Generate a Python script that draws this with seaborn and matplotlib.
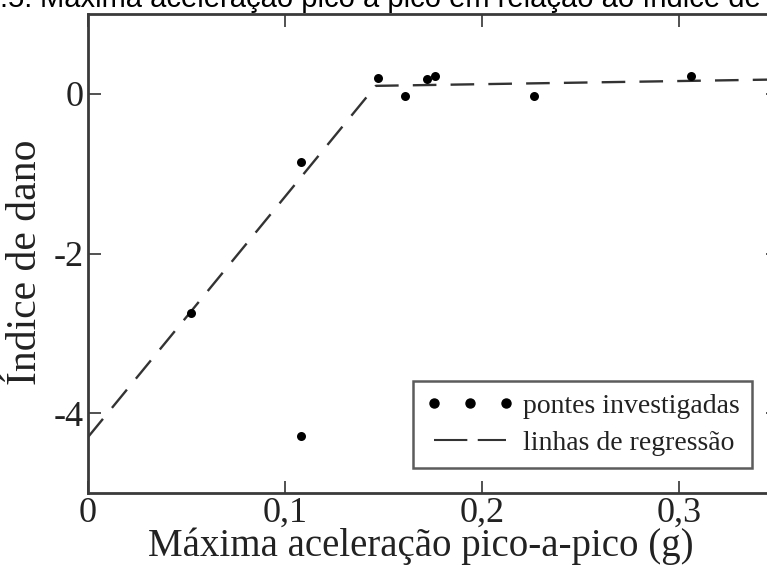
import matplotlib
matplotlib.use("Agg")
import matplotlib.pyplot as plt
from matplotlib.lines import Line2D
import seaborn as sns
import pandas as pd

# Peak-to-peak acceleration (g) and damage index of the surveyed bridges
accel = [0.052, 0.108, 0.108, 0.147, 0.161, 0.172, 0.176, 0.226, 0.306]
damage = [-2.74, -0.86, -4.29, 0.20, -0.03, 0.19, 0.22, -0.03, 0.22]

# Piecewise regression lines (rising branch and plateau)
reg_x = [0.0, 0.146, 0.35]
reg_y = [-4.30, 0.10, 0.18]

x_ticks = [0, 0.1, 0.2, 0.3]
x_tick_labels = ["0", "0,1", "0,2", "0,3"]
y_ticks = [0, -2, -4]
y_tick_labels = ["0", "-2", "-4"]

points = pd.DataFrame({"accel": accel, "damage": damage})
lines = pd.DataFrame({"accel": reg_x, "damage": reg_y})

sns.set_style("ticks")
plt.rcParams["font.family"] = ["Liberation Serif", "DejaVu Serif"]

W, H = 767, 571
fig = plt.figure(figsize=(W / 100, H / 100), dpi=100)
ax = fig.add_axes([88 / W, 78 / H, 690 / W, 479 / H])

sns.lineplot(data=lines, x="accel", y="damage", ax=ax, color="#333333",
             linewidth=1.7, dashes=False, sort=False, estimator=None)
ax.lines[-1].set_dashes((10, 6))
sns.scatterplot(data=points, x="accel", y="damage", ax=ax, color="black",
                s=42, edgecolor="black", linewidth=0, zorder=3)

ax.set_xlim(0, 0.35)
ax.set_ylim(-5, 1)
ax.set_xticks(x_ticks)
ax.set_xticklabels(x_tick_labels)
ax.set_yticks(y_ticks)
ax.set_yticklabels(y_tick_labels)
ax.tick_params(direction="in", length=9, width=1.2, color="#333333",
               top=True, right=True, labelsize=26, pad=3,
               labelcolor="#222222")
for sp in ax.spines.values():
    sp.set_linewidth(2.0)
    sp.set_color("#3a3a3a")

ax.set_xlabel("Máxima aceleração pico-a-pico (g)", fontsize=28,
              color="#222222")
ax.xaxis.set_label_coords(0.483, -0.072)
ax.set_ylabel("Índice de dano", fontsize=30, color="#222222")
ax.yaxis.set_label_coords(-0.062, 0.482)

handles = [
    Line2D([], [], marker="o", linestyle="", color="black", markersize=6.5),
    Line2D([], [], linestyle=(0, (16, 5)), color="#333333", linewidth=1.5),
]
leg = ax.legend(handles, ["pontes investigadas", "linhas de regressão"],
                loc="lower left", bbox_to_anchor=(0.471, 0.052),
                numpoints=3, fontsize=20, frameon=True, fancybox=False,
                edgecolor="#333333", handlelength=3.2, handletextpad=0.3,
                borderpad=0.45, labelspacing=0.4, borderaxespad=0)
leg.get_frame().set_linewidth(1.8)
for t in leg.get_texts():
    t.set_color("#222222")

# Caption above the plot
title_y = 1.0 - 7 / H
title_x = 40 / W
fig.text(title_x, title_y, "Figura 2.5: ", fontsize=21,
         family=["Liberation Sans", "DejaVu Sans"], ha="right",
         va="baseline", color="black")
fig.text(title_x, title_y,
         "Máxima aceleração pico a pico em relação ao índice de dano",
         fontsize=21, family=["Liberation Sans", "DejaVu Sans"],
         ha="left", va="baseline", color="black")

fig.savefig("out.png", dpi=100)
